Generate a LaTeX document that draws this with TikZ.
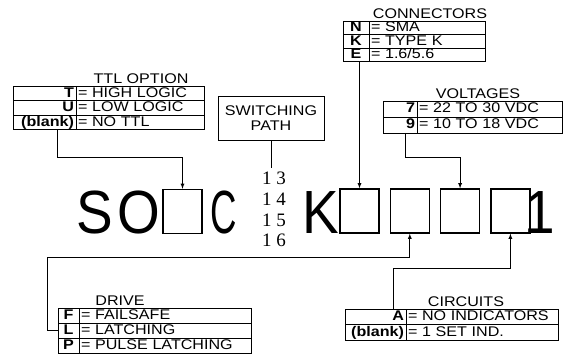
\documentclass[tikz,border=0pt]{standalone}
\usepackage{fontspec}
\usepackage{tikz}
\usetikzlibrary{positioning, shapes, arrows}

\newfontfamily\plotfont[FakeStretch=1.15]{Liberation Sans}
\newfontfamily\bigplot[FakeStretch=0.9]{Liberation Sans}
\newfontfamily\narrowplot[FakeStretch=0.6]{Liberation Sans}
\newfontfamily\numfont{Liberation Serif}
\newcommand{\tabfont}{\plotfont\fontsize{14}{15}\selectfont}

\tikzset{
  cell/.style={draw, line width=0.9pt, outer sep=0pt, inner xsep=2pt, inner ysep=0pt,
    text height=10pt, text depth=2pt, font=\tabfont},
  keycell/.style 2 args={cell, text width=#1, minimum height=#2, align=right, font=\tabfont\bfseries},
  desccell/.style 2 args={cell, text width=#1, minimum height=#2, align=left},
  tabtitle/.style={inner xsep=1pt, inner ysep=2.5pt, font=\tabfont},
  slot/.style={draw, line width=1.3pt, minimum width=39pt, minimum height=44pt, inner sep=0pt},
  bigletter/.style={inner sep=0pt, font=\bigplot\fontsize{61}{61}\selectfont},
  pathnum/.style={inner sep=0pt, font=\numfont\fontsize{19}{19}\selectfont},
  leg/.style={line width=0.8pt}
}

\begin{document}
\begin{tikzpicture}[x=1pt, y=-1pt, >=latex]
  \useasboundingbox (0,0) rectangle (563,358);

  % part number
  \node (letS) [bigletter, anchor=base] at (95,234) {S};
  \node (letO) [bigletter, anchor=base] at (139,234) {O};
  \node (slotttl) [slot] at (182.5,211.5) {};
  \node (letC) [bigletter, font=\narrowplot\fontsize{61}{61}\selectfont, anchor=base] at (224,234) {C};
  \node (letK) [bigletter, anchor=base] at (320.5,234) {K};
  \node (slotcon) [slot] at (359.5,211) {};
  \node (slotdrv) [slot, right=10pt of slotcon] {};
  \node (slotvolt) [slot, right=10pt of slotdrv] {};
  \node (slotcir) [slot, right=10pt of slotvolt] {};
  \node (letone) [bigletter, anchor=base] at (540,234) {1};

  \node (num13) [pathnum, anchor=base] at (274,185) {1\hspace{5pt}3};
  \node (num14) [pathnum, anchor=base] at (274,206) {1\hspace{5pt}4};
  \node (num15) [pathnum, anchor=base] at (274,226.5) {1\hspace{5pt}5};
  \node (num16) [pathnum, anchor=base] at (274,247) {1\hspace{5pt}6};

  % switching path
  \node (swpath) [draw, line width=0.9pt, minimum width=106pt, minimum height=44pt,
    align=center, font=\tabfont] at (271,118) {SWITCHING\\PATH};
  \coordinate (swend) at (272,168);
  \draw [leg] (swpath.south) -- (swpath.south |- swend);

  % ttl option
  \node (ttltitle) [tabtitle, anchor=south] at (141,86) {TTL OPTION};
  \node (ttlT) [keycell={59pt}{14.5pt}, anchor=north west] at (13,86) {T};
  \node (ttlTd) [desccell={124pt}{14.5pt}, right=0pt of ttlT] {= HIGH LOGIC};
  \node (ttlU) [keycell={59pt}{14.5pt}, below=0pt of ttlT] {U};
  \node (ttlUd) [desccell={124pt}{14.5pt}, right=0pt of ttlU] {= LOW LOGIC};
  \node (ttlB) [keycell={59pt}{14.5pt}, below=0pt of ttlU] {(blank)};
  \node (ttlBd) [desccell={124pt}{14.5pt}, right=0pt of ttlB] {= NO TTL};
  \coordinate (ttlknee) at (57,157);
  \draw [leg, ->] (ttlknee |- ttlB.south) -- (ttlknee) -| (slotttl.north);

  % connectors
  \node (contitle) [tabtitle, anchor=south] at (430,21) {CONNECTORS};
  \node (conN) [keycell={22pt}{13.5pt}, align=center, anchor=north west] at (343,21) {N};
  \node (conNd) [desccell={112pt}{13.5pt}, right=0pt of conN] {= SMA};
  \node (conK) [keycell={22pt}{13.5pt}, align=center, below=0pt of conN] {K};
  \node (conKd) [desccell={112pt}{13.5pt}, right=0pt of conK] {= TYPE K};
  \node (conE) [keycell={22pt}{13.5pt}, align=center, below=0pt of conK] {E};
  \node (conEd) [desccell={112pt}{13.5pt}, right=0pt of conE] {= 1.6/5.6};
  \draw [leg, ->] (slotcon.north |- conE.south) -- (slotcon.north);

  % voltages
  \node (volttitle) [tabtitle, anchor=south] at (478,101) {VOLTAGES};
  \node (volt7) [keycell={30pt}{16pt}, anchor=north west] at (383,101) {7};
  \node (volt7d) [desccell={141pt}{16pt}, right=0pt of volt7] {= 22 TO 30 VDC};
  \node (volt9) [keycell={30pt}{16pt}, below=0pt of volt7] {9};
  \node (volt9d) [desccell={141pt}{16pt}, right=0pt of volt9] {= 10 TO 18 VDC};
  \coordinate (voltknee) at (405,157);
  \draw [leg, ->] (voltknee |- volt9.south) -- (voltknee) -| (slotvolt.north);

  % drive
  \node (drvtitle) [tabtitle, anchor=south] at (120,308) {DRIVE};
  \node (drvF) [keycell={17pt}{15pt}, align=center, anchor=north west] at (58,308) {F};
  \node (drvFd) [desccell={168pt}{15pt}, right=0pt of drvF] {= FAILSAFE};
  \node (drvL) [keycell={17pt}{15pt}, align=center, below=0pt of drvF] {L};
  \node (drvLd) [desccell={168pt}{15pt}, right=0pt of drvL] {= LATCHING};
  \node (drvP) [keycell={17pt}{15pt}, align=center, below=0pt of drvL] {P};
  \node (drvPd) [desccell={168pt}{15pt}, right=0pt of drvP] {= PULSE LATCHING};
  \coordinate (drvknee) at (47,257);
  \draw [leg, ->] (drvL.west) -| (drvknee) -| (slotdrv.south);

  % circuits
  \node (cirtitle) [tabtitle, anchor=south] at (466,309) {CIRCUITS};
  \node (cirA) [keycell={57pt}{15.5pt}, anchor=north west] at (345,309) {A};
  \node (cirAd) [desccell={148pt}{15.5pt}, right=0pt of cirA] {= NO INDICATORS};
  \node (cirB) [keycell={57pt}{15.5pt}, below=0pt of cirA] {(blank)};
  \node (cirBd) [desccell={148pt}{15.5pt}, right=0pt of cirB] {= 1 SET IND.};
  \coordinate (cirknee) at (393,268);
  \draw [leg, ->] (cirknee |- cirA.north) -- (cirknee) -| (slotcir.south);
\end{tikzpicture}
\end{document}
